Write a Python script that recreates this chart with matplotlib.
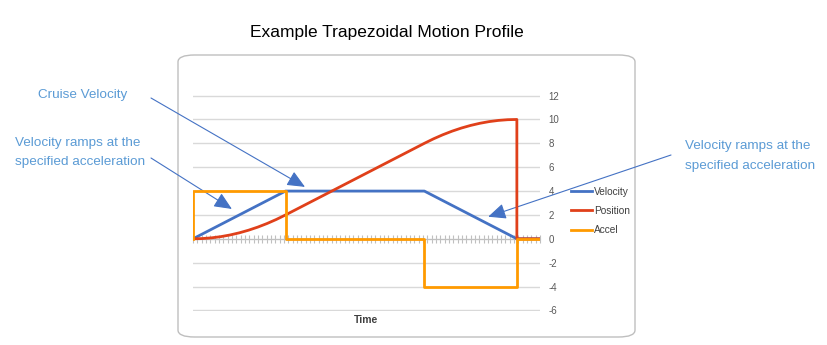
import matplotlib.pyplot as plt
from matplotlib.patches import FancyBboxPatch
from matplotlib.ticker import MultipleLocator

plt.rcParams['font.family'] = ['Liberation Sans', 'DejaVu Sans']
plt.rcParams['axes.unicode_minus'] = False

t = [0.0, 0.1, 0.2, 0.3, 0.4, 0.5, 0.6, 0.7, 0.8, 0.9, 1.0,
     1.1, 1.2, 1.3, 1.4, 1.5, 1.6, 1.7, 1.8, 1.9, 2.0,
     2.1, 2.2, 2.3, 2.4, 2.5, 2.6, 2.7, 2.8, 2.9, 3.0,
     3.1, 3.2, 3.3, 3.4, 3.5, 3.5, 3.75]
velocity = [0.0, 0.4, 0.8, 1.2, 1.6, 2.0, 2.4, 2.8, 3.2, 3.6, 4.0,
            4.0, 4.0, 4.0, 4.0, 4.0, 4.0, 4.0, 4.0, 4.0, 4.0,
            4.0, 4.0, 4.0, 4.0, 4.0, 3.6, 3.2, 2.8, 2.4, 2.0,
            1.6, 1.2, 0.8, 0.4, 0.0, 0.0, 0.0]
position = [0.0, 0.02, 0.08, 0.18, 0.32, 0.5, 0.72, 0.98, 1.28, 1.62, 2.0,
            2.4, 2.8, 3.2, 3.6, 4.0, 4.4, 4.8, 5.2, 5.6, 6.0,
            6.4, 6.8, 7.2, 7.6, 8.0, 8.38, 8.72, 9.02, 9.28, 9.5,
            9.68, 9.82, 9.92, 9.98, 10.0, 0.0, 0.0]

t_acc = [0.0, 0.0, 1.0, 1.0, 2.5, 2.5, 3.5, 3.5, 3.75]
accel = [0.0, 4.0, 4.0, 0.0, 0.0, -4.0, -4.0, 0.0, 0.0]

yticks = [-6, -4, -2, 0, 2, 4, 6, 8, 10, 12]

blue = '#4472c4'
red = '#e0401a'
orange = '#ff9a00'
note = '#5b9bd5'

fig = plt.figure(figsize=(8.27, 3.45), dpi=100)

# rounded chart frame, kept behind the axes
frame = FancyBboxPatch((178 / 827, 1 - 337 / 345), (635 - 178) / 827, (337 - 55) / 345,
                       boxstyle='round,pad=0,rounding_size=0.02',
                       transform=fig.transFigure, facecolor='white',
                       edgecolor='#bfbfbf', linewidth=1.0, zorder=-5)
fig.patches.append(frame)

ax = fig.add_axes([193 / 827, 1 - 311 / 345, (540 - 193) / 827, (311 - 95) / 345])
ax.set_zorder(2)
ax.patch.set_alpha(0)

ax.plot(t, velocity, color=blue, lw=2, label='Velocity', zorder=3)
ax.plot(t, position, color=red, lw=2, label='Position', zorder=4)
ax.plot(t_acc, accel, color=orange, lw=2, label='Accel', zorder=5)

ax.set_xlim(0, 3.75)
ax.set_ylim(-6.05, 12.05)
ax.set_yticks(yticks)
ax.yaxis.tick_right()
ax.tick_params(axis='y', length=0, pad=6, labelsize=7, labelcolor='#595959')
ax.grid(axis='y', color='#d9d9d9', lw=1)
ax.set_axisbelow(True)

for s in ['top', 'left', 'right']:
    ax.spines[s].set_visible(False)
ax.spines['bottom'].set_position(('data', 0))
ax.spines['bottom'].set_color('#bfbfbf')
ax.xaxis.set_major_locator(MultipleLocator(3.75 / 80))
ax.tick_params(axis='x', direction='inout', length=6, width=0.8,
               color='#bfbfbf', labelbottom=False)

fig.text(366 / 827, 1 - 320 / 345, 'Time', ha='center', va='center',
         fontsize=7.5, fontweight='bold', color='#404040')

fig.text(387 / 827, 1 - 33 / 345, 'Example Trapezoidal Motion Profile',
         ha='center', va='center', fontsize=12.5, color='black')

fig.legend(loc='center left', bbox_to_anchor=(571 / 827, 1 - 211 / 345),
           frameon=False, fontsize=7.3, handlelength=2.1, handletextpad=0.15,
           labelspacing=0.9, borderpad=0, borderaxespad=0, labelcolor='#404040')

arrow = dict(arrowstyle='-|>,head_length=0.9,head_width=0.4', color=blue,
             lw=0.8, shrinkA=0, shrinkB=0, mutation_scale=12)

ax.annotate('', xy=(1.21, 4.35), xycoords='data',
            xytext=(151 / 827, 1 - 98 / 345), textcoords='figure fraction',
            arrowprops=arrow, annotation_clip=False)
ax.annotate('', xy=(0.42, 2.5), xycoords='data',
            xytext=(151 / 827, 1 - 158 / 345), textcoords='figure fraction',
            arrowprops=arrow, annotation_clip=False)
ax.annotate('', xy=(3.19, 1.85), xycoords='data',
            xytext=(671 / 827, 1 - 155 / 345), textcoords='figure fraction',
            arrowprops=arrow, annotation_clip=False)

fig.text(83 / 827, 1 - 95 / 345, 'Cruise Velocity', ha='center', va='center',
         fontsize=9.7, color=note)
fig.text(15 / 827, 1 - 152.5 / 345, 'Velocity ramps at the\nspecified acceleration',
         ha='left', va='center', fontsize=9.7, color=note, linespacing=1.8)
fig.text(685 / 827, 1 - 156 / 345, 'Velocity ramps at the\nspecified acceleration',
         ha='left', va='center', fontsize=9.7, color=note, linespacing=1.8)

fig.savefig('out.png', dpi=100)
